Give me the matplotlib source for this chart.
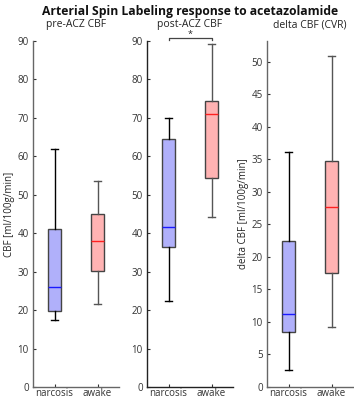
import matplotlib.pyplot as plt

# group labels
groups = ['narcosis', 'awake']

# box stats per panel: (whislo, q1, med, q3, whishi) for narcosis, awake
pre_acz = [(17.4, 19.8, 25.9, 41.1, 61.8), (21.6, 30.3, 38.0, 45.1, 53.5)]
post_acz = [(22.3, 36.3, 41.5, 64.4, 70.0), (44.3, 54.3, 71.1, 74.3, 89.3)]
delta_cbf = [(2.6, 8.4, 11.2, 22.5, 36.2), (9.2, 17.5, 27.6, 34.7, 50.9)]

titles = ['pre-ACZ CBF', 'post-ACZ CBF', 'delta CBF (CVR)']
ylabels = ['CBF [ml/100g/min]', '', 'delta CBF [ml/100g/min]']

FILL = ['#b0b0fa', '#ffb3b3']
MED = ['#1a1aff', '#ff2020']
WHISK = ['#000000', '#555555']

plt.rcParams['font.family'] = ['Open Sans', 'DejaVu Sans']

W, H = 354, 400
fig = plt.figure(figsize=(W / 100, H / 100), dpi=100)


def add_ax(left, top, right, bottom):
    return fig.add_axes([left / W, (H - bottom) / H, (right - left) / W, (bottom - top) / H])


def draw_panel(ax, data, title, ylabel, ylim, yticks, spine_col):
    stats = []
    for g, (lo, q1, med, q3, hi) in zip(groups, data):
        stats.append(dict(label=g, whislo=lo, q1=q1, med=med, q3=q3, whishi=hi, fliers=[]))
    bp = ax.bxp(stats, positions=[1, 2], widths=0.3, patch_artist=True, showfliers=False)
    for i, box in enumerate(bp['boxes']):
        box.set_facecolor(FILL[i])
        box.set_edgecolor('#444444')
        box.set_linewidth(1.0)
        bp['medians'][i].set_color(MED[i])
        bp['medians'][i].set_linewidth(1.0)
        for j in (2 * i, 2 * i + 1):
            bp['whiskers'][j].set_color(WHISK[i])
            bp['whiskers'][j].set_linewidth(1.0)
            bp['caps'][j].set_color(WHISK[i])
            bp['caps'][j].set_linewidth(1.0)
    ax.set_xlim(0.5, 2.5)
    ax.set_ylim(*ylim)
    ax.set_yticks(yticks)
    ax.set_xticks([1, 2])
    ax.set_xticklabels(groups)
    ax.tick_params(direction='in', length=2.5, width=0.8, labelsize=7, colors='#333333', pad=3)
    ax.tick_params(axis='x', pad=1)
    for s in ('top', 'right'):
        ax.spines[s].set_visible(False)
    for s in ('left', 'bottom'):
        ax.spines[s].set_color(spine_col)
        ax.spines[s].set_linewidth(1.0)
    ax.set_title(title, fontsize=7.5, color='#222222', pad=10)
    if ylabel:
        ax.set_ylabel(ylabel, fontsize=7, color='#222222', labelpad=2)


ax1 = add_ax(33, 41, 119, 387)
draw_panel(ax1, pre_acz, titles[0], ylabels[0], (0, 90), range(0, 91, 10), '#666666')

ax2 = add_ax(147, 41, 233, 387)
draw_panel(ax2, post_acz, titles[1], ylabels[1], (0, 90), range(0, 91, 10), '#222222')
# significance bracket
ax2.plot([1, 1, 2, 2], [90.3, 90.8, 90.8, 90.3], color='#444444', lw=0.9, clip_on=False)
ax2.text(1.5, 91.6, '*', ha='center', va='center', fontsize=6.5, color='#222222')

ax3 = add_ax(267, 41, 353, 387)
draw_panel(ax3, delta_cbf, titles[2], ylabels[2], (0, 53.2), range(0, 51, 5), '#666666')

fig.text(190 / W, 1 - 11 / H, 'Arterial Spin Labeling response to acetazolamide',
         ha='center', va='center', fontsize=8.7, fontweight='bold', color='#111111')

fig.savefig('out.png', dpi=100)
